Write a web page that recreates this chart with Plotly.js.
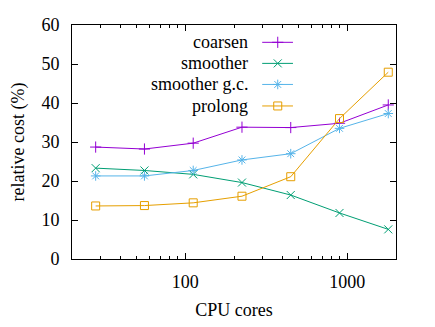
<!DOCTYPE html>
<html>
<head>
<meta charset="utf-8">
<script src="https://cdn.plot.ly/plotly-3.0.1.min.js"></script>
</head>
<body style="margin:0">
<div id="chart" style="width:435px;height:327px"></div>
<script>
// cores used in each run
var cores = [28, 56, 112, 224, 448, 896, 1792];

// relative cost (%) of each part of the multigrid cycle
var coarsen = [28.7, 28.2, 29.7, 33.8, 33.7, 34.8, 39.5];
var smoother = [23.3, 22.7, 21.7, 19.6, 16.4, 11.8, 7.6];
var smootherGc = [21.3, 21.3, 22.7, 25.4, 27.0, 33.5, 37.3];
var prolong = [13.6, 13.7, 14.4, 16.1, 21.1, 36.0, 47.9];

var names = ['coarsen', 'smoother', 'smoother g.c.', 'prolong'];
var colors = ['#9400d3', '#009e73', '#56b4e9', '#e69f00'];
var symbols = ['cross-thin-open', 'x-thin-open', 'asterisk-open', 'square-open'];
var series = [coarsen, smoother, smootherGc, prolong];

var txt = {family: 'Liberation Serif', size: 18, color: '#000'};
var data = [];

for (var i = 0; i < series.length; i++) {
    data.push({
        x: cores,
        y: series[i],
        type: 'scatter',
        mode: 'lines+markers',
        name: names[i],
        line: {color: colors[i], width: 1},
        marker: {symbol: symbols[i], size: 8, color: colors[i], line: {color: colors[i], width: 1}},
        showlegend: false,
        cliponaxis: false
    });
}

// gnuplot-style key: text on the left, sample on the right
var keyRows = [0.926, 0.836, 0.746, 0.654];
var annotations = [];
for (var k = 0; k < names.length; k++) {
    data.push({
        x: [0.587, 0.682],
        y: [keyRows[k], keyRows[k]],
        xaxis: 'x2',
        yaxis: 'y2',
        type: 'scatter',
        mode: 'lines',
        line: {color: colors[k], width: 1},
        showlegend: false,
        hoverinfo: 'skip'
    });
    data.push({
        x: [0.635],
        y: [keyRows[k]],
        xaxis: 'x2',
        yaxis: 'y2',
        type: 'scatter',
        mode: 'markers',
        marker: {symbol: symbols[k], size: 8, color: colors[k], line: {color: colors[k], width: 1}},
        showlegend: false,
        hoverinfo: 'skip'
    });
    annotations.push({
        xref: 'x2', yref: 'y2',
        x: 0.548, y: keyRows[k],
        text: names[k],
        showarrow: false,
        xanchor: 'right',
        yanchor: 'middle',
        font: txt
    });
}

var layout = {
    width: 435,
    height: 327,
    margin: {l: 72, r: 39, t: 25, b: 68},
    paper_bgcolor: '#fff',
    plot_bgcolor: '#fff',
    font: txt,
    showlegend: false,
    annotations: annotations,
    xaxis: {
        type: 'log',
        range: [Math.log10(20), Math.log10(2000)],
        tickvals: [100, 1000],
        ticktext: ['100', '1000'],
        tickfont: txt,
        ticks: 'inside',
        ticklen: 6,
        tickcolor: '#000',
        ticklabelstandoff: 6,
        showgrid: false,
        zeroline: false,
        showline: true,
        linecolor: '#000',
        linewidth: 1,
        mirror: 'ticks',
        minor: {ticks: 'inside', ticklen: 3, tickcolor: '#000', showgrid: false, dtick: 'D1'},
        title: {text: 'CPU cores', standoff: 12, font: txt}
    },
    yaxis: {
        range: [0, 60],
        dtick: 10,
        tickfont: txt,
        ticks: 'inside',
        ticklen: 6,
        tickcolor: '#000',
        ticklabelstandoff: 8,
        showgrid: false,
        zeroline: false,
        showline: true,
        linecolor: '#000',
        linewidth: 1,
        mirror: 'ticks',
        title: {text: 'relative cost (%)', standoff: 12, font: txt}
    },
    xaxis2: {range: [0, 1], overlaying: 'x', visible: false, fixedrange: true},
    yaxis2: {range: [0, 1], overlaying: 'y', visible: false, fixedrange: true}
};

function draw() {
    Plotly.newPlot('chart', data, layout, {displayModeBar: false});
}

draw();
// the serif face may arrive late; draw again once it is there so text is measured right
if (document.fonts && document.fonts.load) {
    document.fonts.load('18px "Liberation Serif"', 'coarsen smoother g.c. prolong CPU 0123456789()%')
        .then(draw, function () {});
}
</script>
</body>
</html>
